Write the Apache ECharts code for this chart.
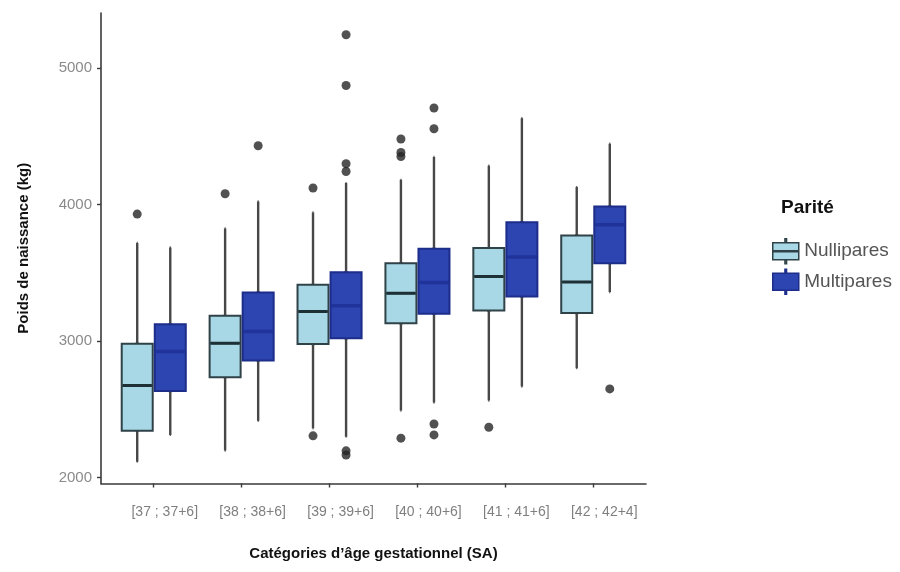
<!DOCTYPE html>
<html><head><meta charset="utf-8">
<script src="https://cdn.jsdelivr.net/npm/echarts@6/dist/echarts.min.js"></script>
<style>html,body{margin:0;padding:0;background:#fff}#c{width:900px;height:572px}</style>
</head><body><div id="c"></div>
<script>
// ---- data ----
const categories = ['[37 ; 37+6]', '[38 ; 38+6]', '[39 ; 39+6]', '[40 ; 40+6]', '[41 ; 41+6]', '[42 ; 42+4]'];
const yTicks = [2000, 3000, 4000, 5000];
// [min whisker, Q1, median, Q3, max whisker]
const nulliStats = [
  [2117, 2344, 2674, 2980, 3718],
  [2198, 2736, 2985, 3185, 3825],
  [2362, 2978, 3216, 3412, 3942],
  [2491, 3131, 3351, 3571, 4181],
  [2564, 3224, 3473, 3681, 4284],
  [2802, 3205, 3432, 3773, 4128]
];
const multiStats = [
  [2313, 2635, 2923, 3124, 3685],
  [2416, 2857, 3070, 3356, 4022],
  [2300, 3021, 3258, 3505, 4157],
  [2550, 3200, 3429, 3676, 4348],
  [2667, 3326, 3615, 3871, 4633],
  [3359, 3571, 3852, 3986, 4445]
];
const nulliOutliers = [[3930], [4079], [4121, 2306], [4480, 4381, 4352, 2289], [2369], []];
const multiOutliers = [[], [4431], [5244, 4872, 4299, 4242, 2196, 2166], [4707, 4555, 2393, 2313], [], [2650]];

// ---- layout / style ----
const DODGE = 0.188;          // ggplot position_dodge offset (in category units)
const X_MIN = 0.4, X_MAX = 6.6;
const xPos = categories.map((c, i) => i + 1);
const FONT = 'Liberation Sans';
const LIGHT = '#a8d7e6', LIGHT_BORDER = '#2f4248', LIGHT_MEDIAN = '#1d3035';
const DARK = '#2d45b0', DARK_BORDER = '#1d2d8a', DARK_MEDIAN = '#20339a';
const WHISKER = '#474747';
const BOX_W = 31;

function whiskerData(stats, off) { return stats.map((s, i) => [xPos[i] + off].concat(s)); }
function boxData(stats, off) { return stats.map((s, i) => [xPos[i] + off, s[1], s[1], s[2], s[3], s[3]]); }
function medianData(stats, off) { return stats.map((s, i) => [xPos[i] + off, s[2], s[2], s[2], s[2], s[2]]); }
function outlierData(outs, off) {
  const r = [];
  outs.forEach((arr, i) => arr.forEach(v => r.push([xPos[i] + off, v])));
  return r;
}

const ICON_LIGHT = 'path://M0,4H26V21H0Z M12.2,0H13.8V4H12.2Z M12.2,21H13.8V25H12.2Z M0,12H26V13H0Z';
const ICON_DARK = 'path://M0,4H26V21H0Z M12.2,0H13.8V4H12.2Z M12.2,21H13.8V25H12.2Z';

const hiddenX = { type: 'value', min: X_MIN, max: X_MAX, show: false };
const axisColor = '#3a3a3a';

function layer(name, axis, data, width, color, border, bw, z, silent) {
  return {
    name: name, type: 'boxplot', layout: 'horizontal', xAxisIndex: axis, z: z,
    data: data, boxWidth: [width, width],
    itemStyle: { color: color, borderColor: border, borderWidth: bw },
    emphasis: { disabled: true }, silent: !!silent
  };
}

const option = {
  animation: false,
  backgroundColor: '#fff',
  title: [{
    text: 'Parité', left: 781, top: 198, padding: 0,
    textStyle: { fontFamily: FONT, fontSize: 19, fontWeight: 'bold', color: '#111' }
  }],
  legend: {
    orient: 'vertical', left: 772, top: 238, itemWidth: 27, itemHeight: 25, itemGap: 4,
    selectedMode: false, padding: 0,
    textStyle: { fontFamily: FONT, fontSize: 19, color: '#555' },
    data: [
      { name: 'Nullipares', icon: ICON_LIGHT, itemStyle: { color: LIGHT, borderColor: LIGHT_BORDER, borderWidth: 1.5 } },
      { name: 'Multipares', icon: ICON_DARK, itemStyle: { color: DARK, borderColor: DARK_BORDER, borderWidth: 1.5 } }
    ]
  },
  grid: { left: 101, right: 254, top: 13, bottom: 88.5 },
  xAxis: [
    {
      type: 'value', min: X_MIN, max: X_MAX,
      axisLine: { show: true, onZero: false, lineStyle: { color: axisColor, width: 1.6 } },
      axisTick: { show: true, customValues: xPos, length: 4, lineStyle: { color: axisColor, width: 1.4 } },
      axisLabel: {
        customValues: xPos, margin: 22, padding: [0, 0, 0, 22],
        formatter: v => categories[Math.round(v) - 1],
        color: '#7f7f7f', fontSize: 14, fontFamily: FONT
      },
      splitLine: { show: false },
      name: 'Catégories d’âge gestationnel (SA)', nameLocation: 'middle', nameGap: 63,
      nameTextStyle: { fontFamily: FONT, fontSize: 15, fontWeight: 'bold', color: '#111' }
    },
    hiddenX, hiddenX, hiddenX, hiddenX, hiddenX
  ],
  yAxis: {
    type: 'value', min: 1957, max: 5403,
    axisLine: { show: true, onZero: false, lineStyle: { color: axisColor, width: 1.6 } },
    axisTick: { show: true, customValues: yTicks, length: 4, lineStyle: { color: axisColor, width: 1.4 } },
    axisLabel: { customValues: yTicks, margin: 9, color: '#8a8a8a', fontSize: 15, fontFamily: FONT, formatter: v => String(v) },
    splitLine: { show: false },
    name: 'Poids de naissance (kg)', nameLocation: 'middle', nameGap: 70,
    nameTextStyle: { fontFamily: FONT, fontSize: 15, fontWeight: 'bold', color: '#111' }
  },
  series: [
    layer('Nullipares', 0, whiskerData(nulliStats, -DODGE), 1, WHISKER, WHISKER, 2.4, 2, true),
    layer('Multipares', 1, whiskerData(multiStats, DODGE), 1, WHISKER, WHISKER, 2.4, 2, true),
    layer('Nullipares', 2, boxData(nulliStats, -DODGE), BOX_W, LIGHT, LIGHT_BORDER, 2, 3),
    layer('Multipares', 3, boxData(multiStats, DODGE), BOX_W, DARK, DARK_BORDER, 2, 3),
    layer('Nullipares', 4, medianData(nulliStats, -DODGE), BOX_W - 2, LIGHT_MEDIAN, LIGHT_MEDIAN, 3, 4, true),
    layer('Multipares', 5, medianData(multiStats, DODGE), BOX_W - 2, DARK_MEDIAN, DARK_MEDIAN, 3.5, 4, true),
    {
      name: 'Nullipares', type: 'scatter', xAxisIndex: 0, z: 5,
      data: outlierData(nulliOutliers, -DODGE), symbolSize: 9,
      itemStyle: { color: '#262626' }, emphasis: { disabled: true }
    },
    {
      name: 'Multipares', type: 'scatter', xAxisIndex: 0, z: 5,
      data: outlierData(multiOutliers, DODGE), symbolSize: 9,
      itemStyle: { color: '#262626' }, emphasis: { disabled: true }
    }
  ]
};

const chart = echarts.init(document.getElementById('c'), null, { renderer: 'canvas' });
chart.setOption(option);
</script>
</body></html>
